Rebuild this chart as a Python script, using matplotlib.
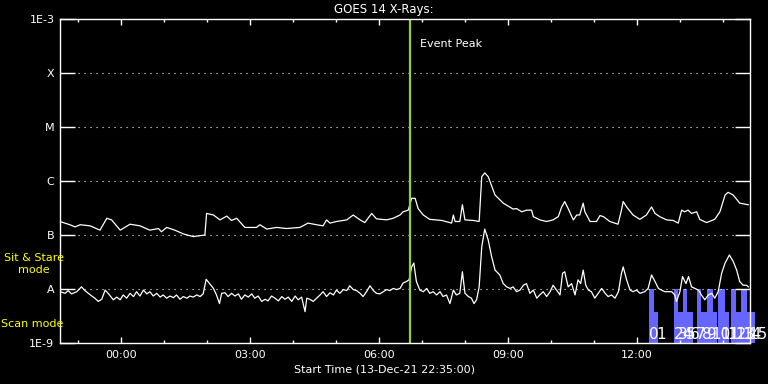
import numpy as np
import matplotlib
matplotlib.use("Agg")
import matplotlib.pyplot as plt
from matplotlib.ticker import NullLocator, FixedLocator

# hours after start time (13-Dec-21 22:35:00)
start_label = "13-Dec-21 22:35:00"
start_hour = 22 + 35 / 60
x_end = 16.05

# GOES long channel (1-8 A), log10 W/m^2
t_long = [0.00, 0.23, 0.35, 0.47, 0.70, 0.93, 1.09, 1.20, 1.40, 1.63, 1.86, 2.09, 2.29, 2.36,
          2.48, 2.67, 2.87, 3.10, 3.37, 3.41, 3.57, 3.72, 3.88, 3.99, 4.11, 4.30, 4.57, 4.65,
          4.81, 5.04, 5.27, 5.58, 5.77, 5.97, 6.12, 6.20, 6.28, 6.43, 6.67, 6.82, 6.98, 7.09,
          7.25, 7.36, 7.60, 7.75, 7.91, 7.98, 8.10, 8.18, 8.26, 8.33, 8.45, 8.60, 8.88, 9.11,
          9.15, 9.19, 9.30, 9.36, 9.42, 9.61, 9.75, 9.81, 9.88, 9.96, 10.12, 10.31, 10.54,
          10.62, 10.74, 10.85, 10.97, 11.01, 11.16, 11.32, 11.47, 11.59, 11.67, 11.74, 11.82,
          11.94, 12.02, 12.09, 12.17, 12.21, 12.33, 12.48, 12.56, 12.64, 12.79, 12.98, 13.06,
          13.10, 13.18, 13.33, 13.49, 13.64, 13.76, 13.84, 13.95, 14.11, 14.26, 14.38, 14.46,
          14.53, 14.61, 14.69, 14.81, 14.88, 15.04, 15.23, 15.35, 15.47, 15.54, 15.66, 15.81,
          16.01]
log_long = [-6.75, -6.81, -6.85, -6.81, -6.83, -6.91, -6.69, -6.72, -6.91, -6.80, -6.83, -6.91,
            -6.88, -6.94, -6.86, -6.91, -6.98, -7.03, -7.00, -6.60, -6.63, -6.72, -6.65, -6.73,
            -6.69, -6.86, -6.86, -6.81, -6.89, -6.86, -6.88, -6.86, -6.78, -6.81, -6.83, -6.72,
            -6.78, -6.75, -6.72, -6.63, -6.72, -6.77, -6.60, -6.70, -6.72, -6.69, -6.63, -6.57,
            -6.54, -6.32, -6.32, -6.51, -6.63, -6.71, -6.73, -6.78, -6.63, -6.75, -6.75, -6.44,
            -6.72, -6.73, -6.75, -5.92, -5.85, -5.92, -6.26, -6.41, -6.52, -6.51, -6.57, -6.54,
            -6.54, -6.66, -6.72, -6.75, -6.72, -6.66, -6.48, -6.38, -6.51, -6.72, -6.63, -6.63,
            -6.41, -6.57, -6.75, -6.75, -6.64, -6.66, -6.75, -6.80, -6.54, -6.38, -6.48, -6.63,
            -6.71, -6.63, -6.48, -6.60, -6.66, -6.72, -6.73, -6.78, -6.54, -6.57, -6.54, -6.60,
            -6.57, -6.71, -6.77, -6.71, -6.57, -6.26, -6.21, -6.26, -6.41, -6.44]

# GOES short channel (0.5-4 A), log10 W/m^2
t_short = [0.00, 0.12, 0.19, 0.27, 0.39, 0.50, 0.58, 0.66, 0.74, 0.81, 0.89, 0.97, 1.05, 1.12,
           1.24, 1.32, 1.40, 1.47, 1.55, 1.63, 1.71, 1.78, 1.86, 1.94, 2.02, 2.09, 2.17, 2.25,
           2.33, 2.40, 2.48, 2.56, 2.64, 2.71, 2.79, 2.87, 2.95, 3.02, 3.10, 3.18, 3.26, 3.33,
           3.40, 3.49, 3.57, 3.64, 3.71, 3.76, 3.84, 3.91, 3.99, 4.07, 4.15, 4.22, 4.30, 4.38,
           4.46, 4.53, 4.61, 4.69, 4.77, 4.84, 4.92, 5.00, 5.08, 5.16, 5.23, 5.31, 5.39, 5.47,
           5.54, 5.62, 5.70, 5.74, 5.81, 5.89, 5.97, 6.05, 6.12, 6.20, 6.28, 6.36, 6.43, 6.51,
           6.59, 6.67, 6.74, 6.82, 6.90, 6.98, 7.05, 7.13, 7.21, 7.29, 7.36, 7.44, 7.52, 7.60,
           7.67, 7.75, 7.83, 7.91, 7.98, 8.06, 8.12, 8.18, 8.23, 8.29, 8.37, 8.45, 8.53, 8.60,
           8.68, 8.76, 8.84, 8.91, 8.99, 9.07, 9.15, 9.22, 9.30, 9.36, 9.42, 9.50, 9.57, 9.63,
           9.69, 9.75, 9.81, 9.88, 9.96, 10.04, 10.12, 10.23, 10.31, 10.39, 10.47, 10.54, 10.62,
           10.70, 10.78, 10.85, 10.93, 11.01, 11.09, 11.16, 11.24, 11.32, 11.40, 11.47, 11.55,
           11.63, 11.69, 11.74, 11.82, 11.90, 11.98, 12.05, 12.11, 12.17, 12.23, 12.29, 12.36,
           12.44, 12.52, 12.60, 12.68, 12.75, 12.83, 12.91, 12.99, 13.06, 13.10, 13.18, 13.26,
           13.33, 13.41, 13.49, 13.60, 13.68, 13.76, 13.84, 13.92, 13.99, 14.07, 14.15, 14.23,
           14.30, 14.34, 14.42, 14.48, 14.56, 14.62, 14.69, 14.77, 14.85, 14.92, 15.00, 15.08,
           15.16, 15.23, 15.31, 15.39, 15.47, 15.57, 15.66, 15.74, 15.81, 15.89, 15.97, 16.01]
log_short = [-8.05, -8.08, -8.03, -8.09, -8.05, -7.96, -8.03, -8.08, -8.13, -8.17, -8.23, -8.19,
             -8.02, -8.08, -8.20, -8.15, -8.20, -8.11, -8.17, -8.08, -8.14, -8.05, -8.13, -8.02,
             -8.09, -8.05, -8.13, -8.08, -8.15, -8.11, -8.17, -8.13, -8.16, -8.11, -8.19, -8.14,
             -8.17, -8.13, -8.15, -8.11, -8.14, -8.09, -7.82, -7.91, -7.99, -8.11, -8.27, -8.08,
             -8.07, -8.14, -8.08, -8.13, -8.09, -8.19, -8.11, -8.15, -8.09, -8.17, -8.13, -8.23,
             -8.19, -8.22, -8.13, -8.17, -8.22, -8.14, -8.19, -8.15, -8.23, -8.13, -8.20, -8.15,
             -8.42, -8.17, -8.19, -8.23, -8.17, -8.11, -8.05, -8.14, -8.07, -8.11, -8.02, -8.08,
             -8.01, -8.03, -7.94, -8.01, -8.03, -8.08, -8.14, -8.05, -7.94, -8.03, -8.08, -8.09,
             -8.05, -8.01, -8.03, -7.99, -8.01, -7.99, -7.89, -7.86, -7.83, -7.59, -7.52, -7.86,
             -8.02, -8.05, -7.99, -8.08, -8.05, -8.11, -8.05, -8.14, -8.11, -8.27, -8.02, -8.11,
             -8.08, -7.68, -8.08, -8.14, -8.17, -8.27, -8.20, -7.96, -7.22, -6.89, -7.09, -7.40,
             -7.65, -7.74, -7.90, -7.96, -7.99, -7.96, -8.05, -8.02, -7.93, -7.90, -8.08, -8.02,
             -8.17, -8.11, -8.05, -8.14, -8.05, -7.93, -8.02, -8.11, -7.71, -7.68, -7.96, -7.90,
             -8.11, -7.83, -7.90, -7.65, -7.93, -8.02, -8.05, -8.17, -8.08, -7.99, -8.08, -8.14,
             -8.11, -8.17, -8.05, -7.71, -7.59, -7.83, -8.02, -8.05, -8.02, -8.08, -8.05, -7.99,
             -7.74, -7.86, -7.99, -8.02, -8.05, -8.05, -8.05, -8.11, -8.23, -8.05, -7.77, -7.90,
             -7.77, -7.96, -7.99, -8.02, -8.11, -8.20, -8.11, -8.08, -8.17, -8.05, -7.71, -7.52,
             -7.37, -7.49, -7.65, -7.86, -7.93, -7.93, -7.96]

event_peak = 8.14

# observing blocks: sit & stare start, switch to scan, end
obs_start = [13.71, 14.28, 14.50, 14.81, 15.05, 15.31, 15.60, 15.85]
obs_switch = [13.81, 14.38, 14.59, 14.92, 15.19, 15.47, 15.72, 15.97]
obs_end = [13.90, 14.50, 14.73, 15.04, 15.29, 15.57, 15.83, 16.16]
stare_level = 1e-8
scan_level = 10 ** -8.42

obs_ids = [str(i) for i in range(16)]
obs_id_t = [13.70, 13.86, 14.28, 14.37, 14.47, 14.56, 14.65, 14.79, 14.93, 15.05, 15.16,
            15.35, 15.53, 15.70, 15.86, 16.02]

y_ticks = [1e-9, 1e-8, 1e-7, 1e-6, 1e-5, 1e-4, 1e-3]
y_labels = ["1E-9", "A", "B", "C", "M", "X", "1E-3"]
clock_ticks = [0, 3, 6, 9, 12]

fig = plt.figure(figsize=(7.68, 3.84), dpi=100, facecolor="black")
ax = fig.add_axes([60 / 768, 41 / 384, 690 / 768, 324 / 384])
ax.set_facecolor("black")
ax.set_yscale("log")
ax.set_ylim(1e-9, 1e-3)
ax.set_xlim(0, x_end)

blue = "#6666ff"
for s, m, e in zip(obs_start, obs_switch, obs_end):
    ax.bar(s, stare_level - 1e-9, width=m - s, bottom=1e-9, align="edge",
           color=blue, lw=0, zorder=1, clip_on=False)
    ax.bar(m, scan_level - 1e-9, width=e - m, bottom=1e-9, align="edge",
           color=blue, lw=0, zorder=1, clip_on=False)

for lvl in y_ticks[1:-1]:
    ax.axhline(lvl, color="white", lw=0.8, ls=(0, (1, 4.4)), zorder=1.5)

ax.plot(t_long, 10 ** np.array(log_long), color="white", lw=0.9, zorder=2)
ax.plot(t_short, 10 ** np.array(log_short), color="white", lw=0.9, zorder=2)

ax.axvline(event_peak, color="#9acd32", lw=1.6, zorder=2.5)
ax.text(event_peak + 0.23, 10 ** -3.46, "Event Peak", color="white", fontsize=8,
        va="center", ha="left")

for lab, t in zip(obs_ids, obs_id_t):
    ax.text(t, 10 ** -8.98, lab, color="white", fontsize=11, ha="left", va="bottom",
            zorder=3, clip_on=False)

# axes styling
for sp in ax.spines.values():
    sp.set_color("white")
    sp.set_linewidth(1.0)

ax.set_yticks(y_ticks)
ax.set_yticklabels(y_labels)
ax.yaxis.set_minor_locator(NullLocator())
ax.tick_params(axis="y", which="major", direction="in", length=10.5, width=1,
               colors="white", labelsize=8, right=True, pad=4)

h0 = 24 - start_hour
major = [h0 + c for c in clock_ticks]
minor = [h0 - 1 + k for k in range(0, 17)]
ax.xaxis.set_major_locator(FixedLocator(major))
ax.xaxis.set_minor_locator(FixedLocator([m for m in minor if 0 < m < x_end]))
ax.set_xticklabels(["%02d:00" % c for c in clock_ticks])
ax.tick_params(axis="x", which="major", direction="in", length=4.3, width=1,
               colors="white", labelsize=8, top=True, pad=5)
ax.tick_params(axis="x", which="minor", direction="in", length=2.2, width=1,
               colors="white", top=True)

fig.text(0.5, 1 - 9 / 384, "GOES 14 X-Rays:", color="white", fontsize=8.5,
         ha="center", va="center")
fig.text(0.5, 1 - 369 / 384, "Start Time (%s)" % start_label, color="white",
         fontsize=8, ha="center", va="center")
fig.text(34 / 768, 1 - 258 / 384, "Sit & Stare", color="yellow", fontsize=8,
         ha="center", va="center")
fig.text(34 / 768, 1 - 270 / 384, "mode", color="yellow", fontsize=8,
         ha="center", va="center")
fig.text(32 / 768, 1 - 324 / 384, "Scan mode", color="yellow", fontsize=8,
         ha="center", va="center")

fig.savefig("out.png", dpi=100, facecolor="black")
